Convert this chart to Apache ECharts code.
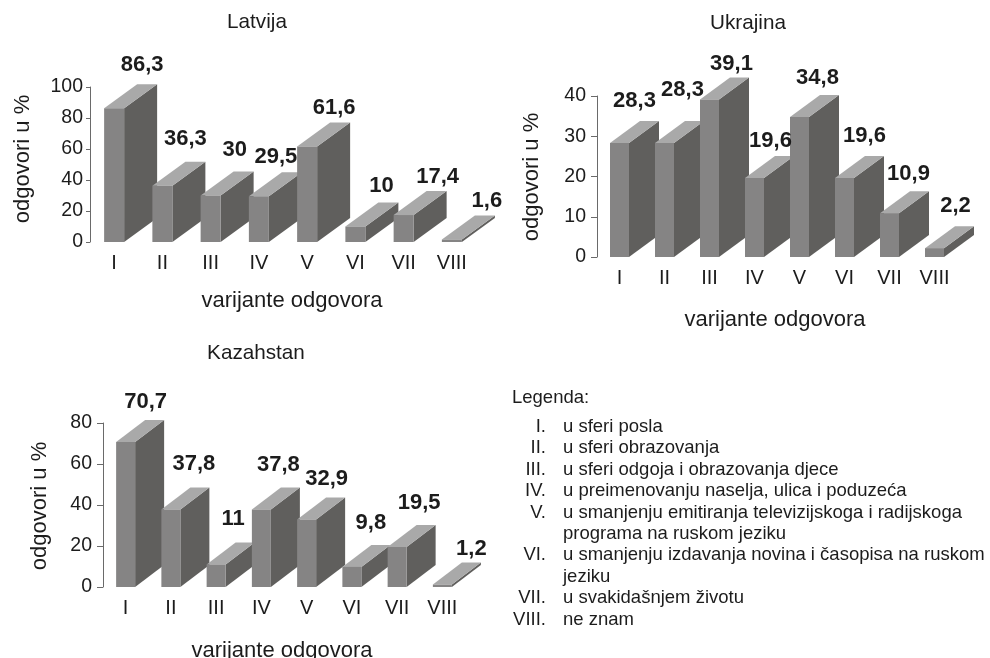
<!DOCTYPE html>
<html>
<head>
<meta charset="utf-8">
<title>odgovori u %</title>
<script src="https://cdn.jsdelivr.net/npm/echarts@6/dist/echarts.min.js"></script>
<style>
  html, body { margin: 0; padding: 0; background: #fff; }
  #chart { width: 990px; height: 658px; }
</style>
</head>
<body>
<div id="chart"></div>
<script>
const categories = ['I', 'II', 'III', 'IV', 'V', 'VI', 'VII', 'VIII']

const latvijaValues = [86.3, 36.3, 30, 29.5, 61.6, 10, 17.4, 1.6]
const ukrajinaValues = [28.3, 28.3, 39.1, 19.6, 34.8, 19.6, 10.9, 2.2]
const kazahstanValues = [70.7, 37.8, 11, 37.8, 32.9, 9.8, 19.5, 1.2]

const legendRoman = ['I.', 'II.', 'III.', 'IV.', 'V.', '', 'VI.', '', 'VII.', 'VIII.']
const legendText = [
  'u sferi posla',
  'u sferi obrazovanja',
  'u sferi odgoja i obrazovanja djece',
  'u preimenovanju naselja, ulica i poduzeća',
  'u smanjenju emitiranja televizijskoga i radijskoga',
  'programa na ruskom jeziku',
  'u smanjenju izdavanja novina i časopisa na ruskom',
  'jeziku',
  'u svakidašnjem životu',
  'ne znam'
]

// koliko je broj iznad stupca pomaknut od sredine prednje plohe
const latvijaNudge = [[28, -44], [23, -48], [24, -47], [17, -40], [27, -40], [26, -42], [34, -39], [35, -40]]
const ukrajinaNudge = [[15, -43], [18, -54], [22, -37], [16, -38], [18, -40], [20, -43], [19, -40], [21, -43]]
const kazahstanNudge = [[20, -41], [23, -47], [17, -47], [17, -46], [20, -42], [19, -45], [22, -45], [29, -37]]

const FONT = '"Liberation Sans", Arial, sans-serif'
const INK = '#1c1c1c'

const panels = [
  {
    title: 'Latvija', values: latvijaValues, nudge: latvijaNudge,
    grid: { left: 90, top: 87, width: 386, height: 155 },
    max: 100, interval: 20, barWidth: 20, depth: [33, 24], tick: 4, labelGap: 7,
    titlePos: [257, 22], yNamePos: [23, 159], xNamePos: [292, 301]
  },
  {
    title: 'Ukrajina', values: ukrajinaValues, nudge: ukrajinaNudge,
    grid: { left: 597, top: 96, width: 360, height: 161 },
    max: 40, interval: 10, barWidth: 19, depth: [30, 22], tick: 6, labelGap: 11,
    titlePos: [748, 23], yNamePos: [532, 177], xNamePos: [775, 320]
  },
  {
    title: 'Kazahstan', values: kazahstanValues, nudge: kazahstanNudge,
    grid: { left: 103, top: 423, width: 362, height: 164 },
    max: 80, interval: 20, barWidth: 19, depth: [29, 22], tick: 6, labelGap: 11,
    titlePos: [256, 353], yNamePos: [40, 506], xNamePos: [282, 651]
  }
]

// stupac: prednja, gornja i bočna ploha, plus broj iznad njega
const renderBar = (panel) => (params, api) => {
  const idx = api.value(0)
  const top = api.coord([idx, api.value(1)])
  const base = api.coord([idx, 0])
  const half = panel.barWidth / 2
  const [dx, dy] = panel.depth
  const l = top[0] - half
  const r = top[0] + half
  const t = top[1]
  const b = base[1]
  const nudge = panel.nudge[params.dataIndex]
  return {
    type: 'group',
    children: [
      {
        type: 'polygon',
        shape: { points: [[r, t], [r + dx, t - dy], [r + dx, b - dy], [r, b]] },
        style: { fill: '#605f5d' }
      },
      {
        type: 'polygon',
        shape: { points: [[l, t], [l + dx, t - dy], [r + dx, t - dy], [r, t]] },
        style: { fill: '#a9a9a9' }
      },
      {
        type: 'rect',
        shape: { x: l, y: t, width: panel.barWidth, height: b - t },
        style: { fill: '#858484' }
      },
      {
        type: 'text',
        z2: 100,
        style: {
          x: top[0] + nudge[0],
          y: t + nudge[1] + 1,
          text: String(api.value(1)).replace('.', ','),
          font: 'bold 22px ' + FONT,
          fill: INK,
          align: 'center',
          verticalAlign: 'middle'
        }
      }
    ]
  }
}

const plainText = (text, x, y, size, extra) => ({
  type: 'text',
  x,
  y,
  style: Object.assign({
    text,
    font: size + 'px ' + FONT,
    fill: INK,
    align: 'center',
    verticalAlign: 'middle'
  }, extra)
})

const graphics = []
panels.forEach(p => {
  graphics.push(plainText(p.title, p.titlePos[0], p.titlePos[1], 20.7))
  graphics.push(plainText('varijante odgovora', p.xNamePos[0], p.xNamePos[1], 22))
  graphics.push(Object.assign(plainText('odgovori u %', p.yNamePos[0], p.yNamePos[1], 22), { rotation: Math.PI / 2 }))
})

// legenda
graphics.push(plainText('Legenda:', 512, 398, 18.5, { align: 'left' }))
legendText.forEach((line, i) => {
  const y = 427 + i * 21.4
  if (legendRoman[i]) {
    graphics.push(plainText(legendRoman[i], 546, y, 18.5, { align: 'right' }))
  }
  graphics.push(plainText(line, 563, y, 18.5, { align: 'left' }))
})

const myChart = echarts.init(document.getElementById('chart'))
myChart.setOption({
  animation: false,
  backgroundColor: '#fff',
  tooltip: { show: false },
  grid: panels.map(p => p.grid),
  xAxis: panels.map((p, i) => ({
    type: 'category',
    gridIndex: i,
    data: categories,
    axisLine: { show: false },
    axisTick: { show: false },
    axisLabel: { color: INK, fontFamily: FONT, fontSize: 20, margin: 11, interval: 0 }
  })),
  yAxis: panels.map((p, i) => ({
    type: 'value',
    gridIndex: i,
    min: 0,
    max: p.max,
    interval: p.interval,
    splitLine: { show: false },
    axisLine: { show: true, lineStyle: { color: '#6a6a6a', width: 1 } },
    axisTick: { show: true, length: p.tick, lineStyle: { color: '#6a6a6a', width: 1 } },
    axisLabel: { color: INK, fontFamily: FONT, fontSize: 19.5, margin: p.labelGap }
  })),
  series: panels.map((p, i) => ({
    type: 'custom',
    name: p.title,
    xAxisIndex: i,
    yAxisIndex: i,
    clip: false,
    silent: true,
    encode: { x: 0, y: 1 },
    data: p.values.map((v, idx) => [idx, v]),
    renderItem: renderBar(p)
  })),
  graphic: graphics
})
</script>
</body>
</html>
